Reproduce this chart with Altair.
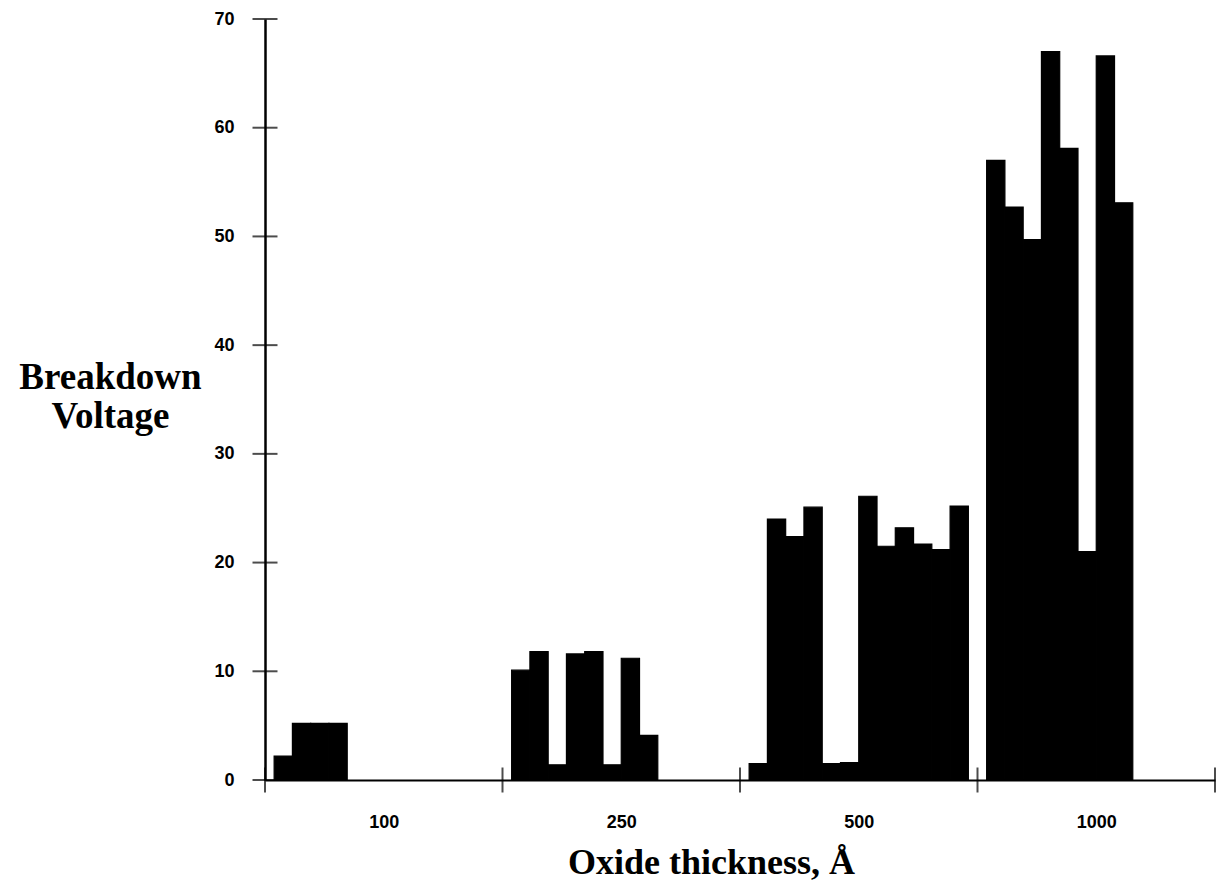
import json
import altair as alt
import pandas as pd

# ---- data ----
groups = ["100", "250", "500", "1000"]          # oxide thickness, Å
v100 = [2.2, 5.2, 5.2, 5.2]
v250 = [10.1, 11.8, 1.4, 11.6, 11.8, 1.4, 11.2, 4.1]
v500 = [1.5, 24.0, 22.4, 25.1, 1.5, 1.6, 26.1, 21.5, 23.2, 21.7, 21.2, 25.2]
v1000 = [57.0, 52.7, 49.7, 67.0, 58.1, 21.0, 66.6, 53.1]
y_ticks = [0, 10, 20, 30, 40, 50, 60, 70]

slots_per_group = 13   # each thickness group spans 13 bar slots
bar_offset = 0.5       # bars start half a slot into their group

rows = []
for gi, vals in enumerate([v100, v250, v500, v1000]):
    for i, v in enumerate(vals):
        start = gi * slots_per_group + bar_offset + i
        rows.append({"group": groups[gi], "x0": start, "x1": start + 1, "v": v})
bars_df = pd.DataFrame(rows)
sep_df = pd.DataFrame({"s": [gi * slots_per_group for gi in range(len(groups) + 1)]})
ytick_df = pd.DataFrame({"t": y_ticks})
label_pos = [gi * slots_per_group + slots_per_group / 2 for gi in range(len(groups))]
x_max = slots_per_group * len(groups)

label_expr = json.dumps(groups) + f"[floor(datum.value/{slots_per_group})]"

xscale = alt.Scale(domain=[0, x_max], nice=False, zero=False)
yscale = alt.Scale(domain=[0, 70], nice=False)

x_axis = alt.Axis(
    values=label_pos, labelExpr=label_expr, ticks=False, tickSize=0, grid=False,
    domainColor="black", domainWidth=2,
    labelFont="Liberation Sans", labelFontWeight="bold", labelFontSize=18,
    labelColor="black", labelPadding=33, labelOverlap=False, labelFlush=False,
    title="Oxide thickness, Å", titleFont="Liberation Serif", titleFontSize=36,
    titleFontWeight="bold", titleColor="black", titleX=446, titleY=93,
    titleAlign="center", titleBaseline="alphabetic",
)
y_axis = alt.Axis(
    values=y_ticks, ticks=False, tickSize=0, grid=False,
    domainColor="black", domainWidth=2.5,
    labelFont="Liberation Sans", labelFontWeight="bold", labelFontSize=18,
    labelColor="black", labelPadding=31,
    title=["Breakdown", "Voltage"], titleFont="Liberation Serif", titleFontSize=37,
    titleFontWeight="bold", titleColor="black", titleAngle=0,
    titleX=-155, titleY=369, titleAlign="center", titleBaseline="alphabetic",
    titleLineHeight=39,
)

bars = alt.Chart(bars_df).mark_rect(color="black", stroke="black", strokeWidth=1.2).encode(
    x=alt.X("x0:Q", scale=xscale, axis=x_axis),
    x2="x1:Q",
    y=alt.Y("v:Q", scale=yscale, axis=y_axis),
    y2=alt.datum(0),
)

xseps = alt.Chart(sep_df).mark_tick(orient="vertical", color="black", thickness=2, size=25).encode(
    x=alt.X("s:Q", scale=xscale),
    y=alt.datum(0),
)

yticks = alt.Chart(ytick_df).mark_tick(orient="horizontal", color="black", thickness=2, size=25).encode(
    y=alt.Y("t:Q", scale=yscale),
    x=alt.datum(0),
)

chart = alt.layer(bars, xseps, yticks).properties(
    width=950, height=761,
    padding={"left": 257, "top": 11, "right": 2, "bottom": 102},
    autosize="none",
    background="white",
).configure_view(stroke=None)

chart.save("out.html", embed_options={"renderer": "svg", "actions": False})
